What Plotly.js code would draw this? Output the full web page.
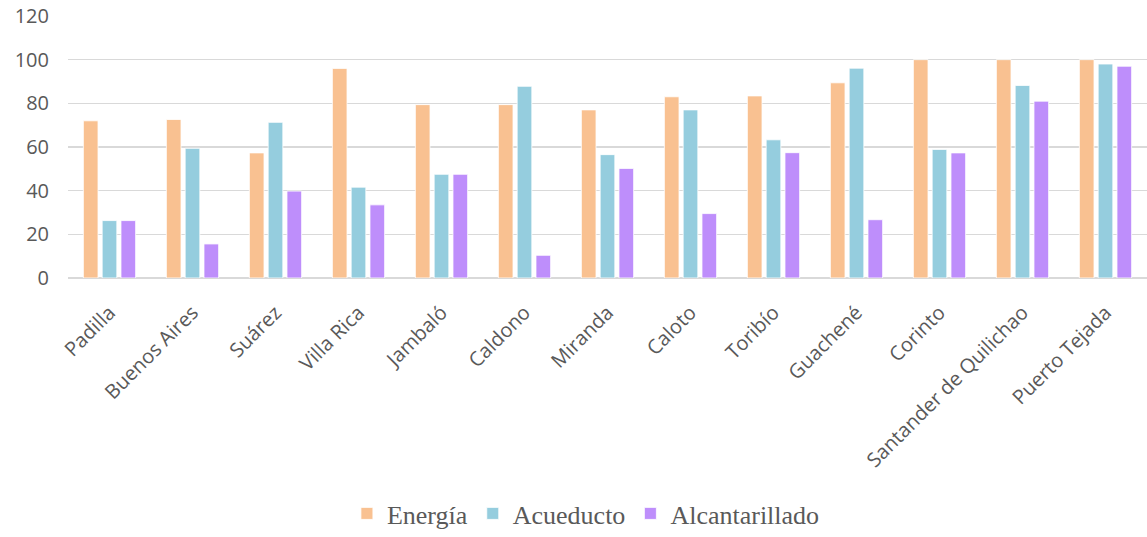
<!DOCTYPE html>
<html>
<head>
<meta charset="utf-8">
<script src="https://cdn.plot.ly/plotly-3.0.1.min.js"></script>
<style>html,body{margin:0;padding:0;background:#fff;}#chart{width:1147px;height:537px;}</style>
</head>
<body>
<div id="chart"></div>
<script>
const categories = ["Padilla","Buenos Aires","Suárez","Villa Rica","Jambaló","Caldono","Miranda","Caloto","Toribío","Guachené","Corinto","Santander de Quilichao","Puerto Tejada"];
const energia = [72, 72.6, 57.3, 96, 79.4, 79.4, 77, 83, 83.4, 89.4, 100, 100, 100];
const acueducto = [26.3, 59.4, 71.3, 41.6, 47.5, 87.8, 56.5, 77, 63.3, 96.1, 58.9, 88.2, 98];
const alcantarillado = [26.3, 15.6, 39.8, 33.5, 47.5, 10.4, 50.2, 29.5, 57.4, 26.7, 57.3, 81, 97];
const seriesNames = ["Energía","Acueducto","Alcantarillado"];
const colors = ["#F9C191","#95CDDE","#BE8EFB"];
const yTicks = [0,20,40,60,80,100,120];

const data = [energia, acueducto, alcantarillado].map((vals, i) => ({
  type: "bar",
  name: seriesNames[i],
  x: categories,
  y: vals,
  marker: {color: colors[i], line: {color: "rgba(255,255,255,0.8)", width: 1}},
  hoverinfo: "x+y+name"
}));

const layout = {
  width: 1147, height: 537,
  margin: {l: 68, r: 0, t: 16, b: 254.5},
  paper_bgcolor: "#fff", plot_bgcolor: "#fff",
  barmode: "group",
  bargap: 0.32,
  bargroupgap: 0.22,
  font: {family: "Open Sans, sans-serif", color: "#595959", size: 18},
  xaxis: {
    type: "category",
    tickangle: -45,
    tickfont: {family: "Open Sans, sans-serif", size: 20, color: "#595959"},
    showgrid: false,
    showline: false,
    ticks: "",
    ticklabelstandoff: 18
  },
  yaxis: {
    range: [0, 120],
    tickvals: yTicks,
    ticktext: yTicks.map(String),
    tickfont: {family: "Open Sans, sans-serif", size: 20, color: "#595959"},
    showgrid: true,
    gridcolor: "#D9D9D9",
    gridwidth: 1.5,
    zeroline: true,
    zerolinecolor: "#D9D9D9",
    zerolinewidth: 1.5,
    showline: false,
    ticks: "",
    ticklabelstandoff: 18
  },
  legend: {
    orientation: "h",
    x: 0.48, xanchor: "center",
    y: -0.9, yanchor: "middle",
    font: {family: "Liberation Serif, Times New Roman, serif", size: 26, color: "#595959"},
    itemwidth: 30,
    traceorder: "normal"
  },
  showlegend: true
};

Plotly.newPlot("chart", data, layout, {displayModeBar: false, staticPlot: true});
</script>
</body>
</html>
